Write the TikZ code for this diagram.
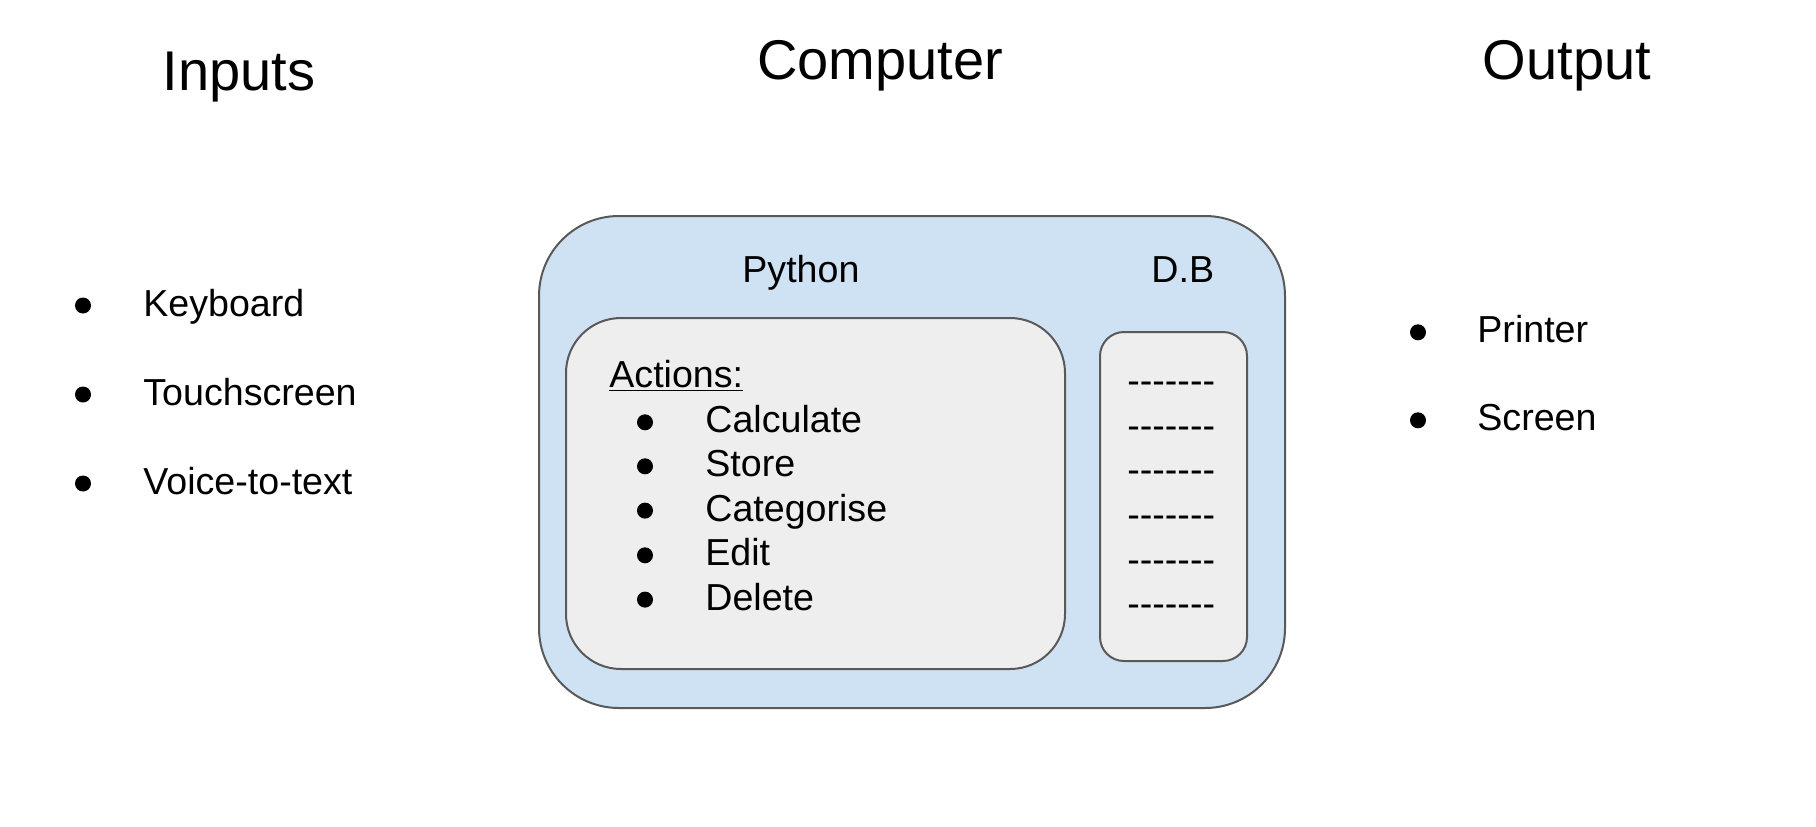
\documentclass[tikz,border=0pt]{standalone}
\usepackage{fontspec}
\setmainfont{Liberation Sans}
\definecolor{paneblue}{HTML}{CFE2F3}
\definecolor{panegray}{HTML}{EEEEEE}
\definecolor{paneline}{HTML}{595959}
\newcommand{\dashrow}{-\kern0pt-\kern0pt-\kern0pt-\kern0pt-\kern0pt-\kern0pt-}
\begin{document}
\begin{tikzpicture}
[
x=0.5pt, y=-0.5pt,
title/.style={anchor=base, inner sep=0, font=\fontsize{28}{32}\selectfont},
label/.style={anchor=base west, inner sep=0, font=\fontsize{18.8}{22}\selectfont},
dot/.style={circle, fill=black, inner sep=0, minimum size=8pt},
pane/.style={rectangle, draw=paneline, line width=1pt},
outer/.style={pane, fill=paneblue, minimum width=373pt, minimum height=246pt, rounded corners=40pt},
inner/.style={pane, fill=panegray, rounded corners=27.5pt}
]
\useasboundingbox (0,0) rectangle (1816,826);

%Boxes
\node[outer]    (computer)   at (912,462)      {};
\node[inner, minimum width=249.5pt, minimum height=175.5pt] (actions) at (815.5,493.5) {};
\node[inner, minimum width=73.5pt, minimum height=164.5pt, rounded corners=12pt] (db) at (1173.5,496.5) {};

%Titles
\node[title]    (inputs)     at (239,90)       {Inputs};
\node[title]    (comp)       at (880,79)       {Computer};
\node[title]    (output)     at (1567,79)      {Output};

%Inputs
\node[label]    (kbd)        at (143,316)      {Keyboard};
\node[label]    (touch)      at (143,405)      {Touchscreen};
\node[label]    (voice)      at (143,494)      {Voice-to-text};
\node[dot]      (kbdDot)     at (83,305.5)     {};
\node[dot]      (touchDot)   at (83,394.5)     {};
\node[dot]      (voiceDot)   at (83,483.5)     {};

%Computer
\node[label]    (python)     at (742,282)      {Python};
\node[label]    (dbname)     at (1151,282)     {D.B};
\node[label]    (acts)       at (609,387)      {\underline{Actions:}};
\node[label]    (calc)       at (705,432.7)    {Calculate};
\node[label]    (store)      at (705,476.7)    {Store};
\node[label]    (categ)      at (705,521)      {Categorise};
\node[label]    (edit)       at (705,565.7)    {Edit};
\node[label]    (delete)     at (705,610)      {Delete};
\node[dot]      (calcDot)    at (645,422.3)    {};
\node[dot]      (storeDot)   at (645,466.3)    {};
\node[dot]      (categDot)   at (645,510.6)    {};
\node[dot]      (editDot)    at (645,555.3)    {};
\node[dot]      (deleteDot)  at (645,599.6)    {};
%D.B rows
\node[label]    (rowA)       at (1127,393)     {\dashrow};
\node[label]    (rowB)       at (1127,438)     {\dashrow};
\node[label]    (rowC)       at (1127,482.5)   {\dashrow};
\node[label]    (rowD)       at (1127,527)     {\dashrow};
\node[label]    (rowE)       at (1127,572)     {\dashrow};
\node[label]    (rowF)       at (1127,616.5)   {\dashrow};

%Output
\node[label]    (printer)    at (1477,342.7)   {Printer};
\node[label]    (screen)     at (1477,430.7)   {Screen};
\node[dot]      (printerDot) at (1418,332.3)   {};
\node[dot]      (screenDot)  at (1418,420.3)   {};

\end{tikzpicture}
\end{document}
